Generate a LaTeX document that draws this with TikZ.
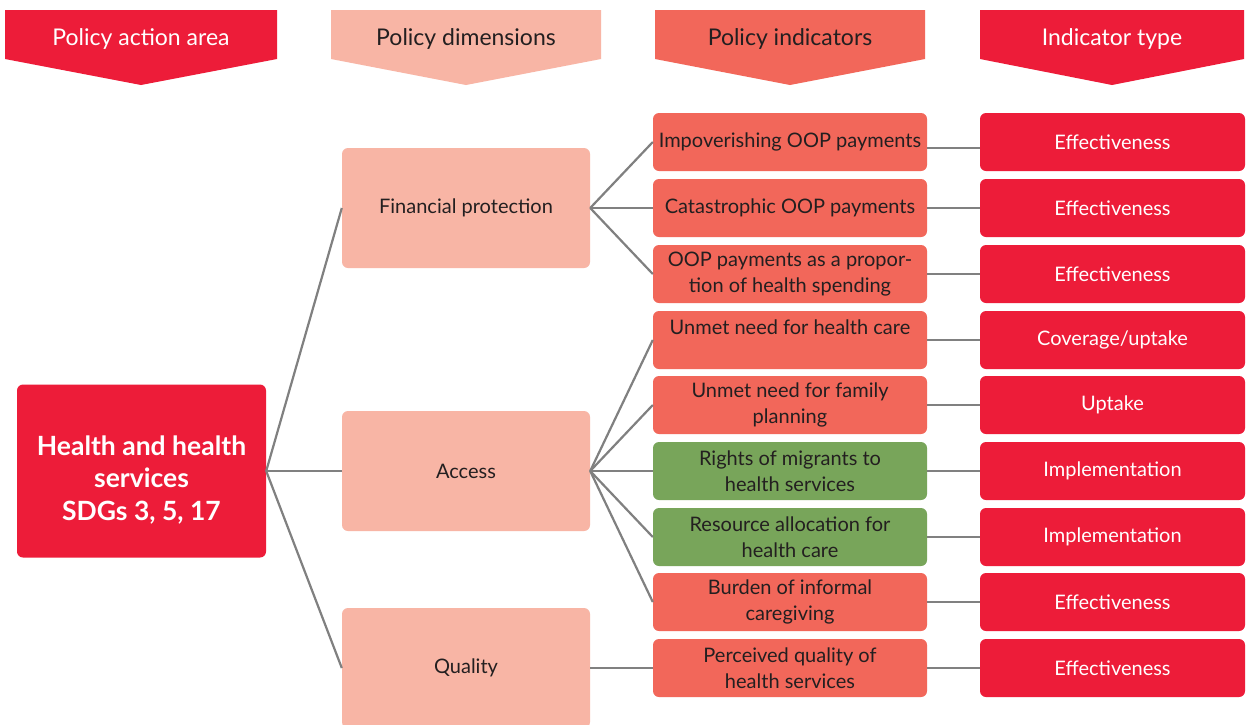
\documentclass[tikz,border=0pt]{standalone}
\usepackage{fontspec}
\setmainfont{Lato}
\definecolor{cred}{HTML}{ED1C39}
\definecolor{cpink}{HTML}{F8B5A5}
\definecolor{csal}{HTML}{F2675A}
\definecolor{cgreen}{HTML}{78A55A}
\definecolor{ctxt}{HTML}{231F20}
\definecolor{cline}{HTML}{808080}
\begin{document}
\begin{tikzpicture}[x=1pt,y=-1pt,
  base/.style={rounded corners=6pt, inner sep=0pt, align=center, text=ctxt,
    font=\fontsize{20}{25.5}\selectfont},
  areabox/.style={base, fill=cred, minimum width=249pt, minimum height=173pt},
  areatext/.style={inner sep=0pt, align=center, text=white,
    font=\fontsize{26.5}{32.5}\selectfont\bfseries},
  dimbox/.style={base, fill=cpink, minimum width=248pt, minimum height=120pt},
  indbox/.style={base, fill=csal, minimum width=274pt, minimum height=58pt},
  grnbox/.style={base, fill=cgreen, minimum width=274pt, minimum height=58pt},
  typebox/.style={base, fill=cred, text=white, minimum width=265pt, minimum height=58pt},
  hdrtext/.style={inner sep=0pt, font=\fontsize{23}{27}\selectfont},
  conn/.style={draw=cline, line width=2.2pt}
]
\clip (0,0) rectangle (1249,724);
\fill[white] (0,0) rectangle (1249,724);

% headers
\fill[cred]  (5,10) -- (277,10) -- (277,59) -- (141,85) -- (5,59) -- cycle;
\node[hdrtext, text=white] (h1) at (141,38.5) {Policy action area};
\fill[cpink] (331,10) -- (601,10) -- (601,59) -- (466,85) -- (331,59) -- cycle;
\node[hdrtext, text=ctxt] (h2) at (466,38.5) {Policy dimensions};
\fill[csal]  (655,10) -- (925,10) -- (925,59) -- (790,85) -- (655,59) -- cycle;
\node[hdrtext, text=ctxt] (h3) at (790,38.5) {Policy indicators};
\fill[cred]  (980,10) -- (1244,10) -- (1244,59) -- (1112,85) -- (980,59) -- cycle;
\node[hdrtext, text=white] (h4) at (1112,38.5) {Indicator type};

% area
\node[areabox] (area) at (141.5,471) {};
\node[areatext] (areat) at (141.5,480) {Health and health\\services\\SDGs 3, 5, 17};

% dimensions
\node[dimbox] (fin) at (466,208) {Financial protection};
\node[dimbox] (acc) at (466,471) {Access};
\node[dimbox] (qua) at (466,668) {Quality};

% indicators
\node[indbox] (i1) at (790,142) {Impoverishing OOP payments};
\node[indbox] (i2) at (790,208) {Catastrophic OOP payments};
\node[indbox] (i3) at (790,274) {OOP payments as a propor-\\tion of health spending};
\node[indbox] (i4) at (790,340) {Unmet need for health care\\\mbox{}};
\node[indbox] (i5) at (790,405) {Unmet need for family\\planning};
\node[grnbox] (i6) at (790,471) {Rights of migrants to\\health services};
\node[grnbox] (i7) at (790,537) {Resource allocation for\\health care};
\node[indbox] (i8) at (790,602) {Burden of informal\\caregiving};
\node[indbox] (i9) at (790,668) {Perceived quality of\\health services};

% types
\node[typebox] (t1) at (1112.5,142) {Effectiveness};
\node[typebox] (t2) at (1112.5,208) {Effectiveness};
\node[typebox] (t3) at (1112.5,274) {Effectiveness};
\node[typebox] (t4) at (1112.5,340) {Coverage/uptake};
\node[typebox] (t5) at (1112.5,405) {Uptake};
\node[typebox] (t6) at (1112.5,471) {Implementation};
\node[typebox] (t7) at (1112.5,537) {Implementation};
\node[typebox] (t8) at (1112.5,602) {Effectiveness};
\node[typebox] (t9) at (1112.5,668) {Effectiveness};

% connectors
\draw[conn] (area.east) -- (fin.west);
\draw[conn] (area.east) -- (acc.west);
\draw[conn] (area.east) -- (qua.west);
\foreach \i in {1,2,3} \draw[conn] (fin.east) -- (i\i.west);
\foreach \i in {4,5,6,7,8} \draw[conn] (acc.east) -- (i\i.west);
\draw[conn] (qua.east) -- (i9.west);
\draw[conn] ([yshift=-6pt]i1.east) -- ([yshift=-6pt]t1.west);
\foreach \i in {2,...,9} \draw[conn] (i\i.east) -- (t\i.west);
\end{tikzpicture}
\end{document}
